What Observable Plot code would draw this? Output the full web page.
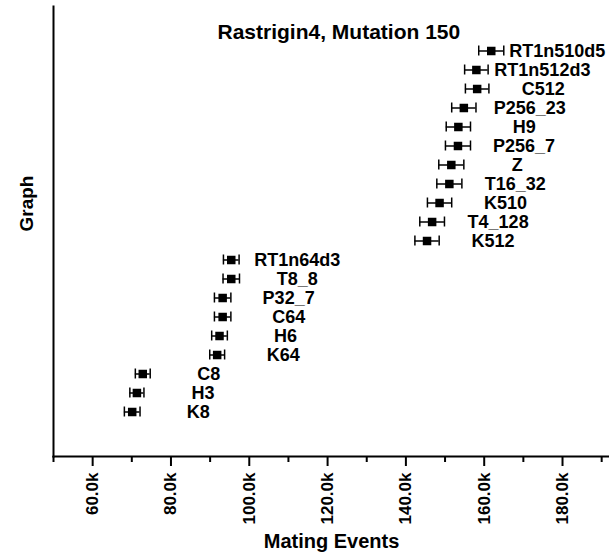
<!DOCTYPE html>
<html>
<head>
<meta charset="utf-8">
<script src="https://cdn.jsdelivr.net/npm/d3@7"></script>
<script src="https://cdn.jsdelivr.net/npm/@observablehq/plot@0.6"></script>
<style>
  html, body { margin: 0; padding: 0; background: #fff; }
  #chart svg { font-family: "Liberation Sans", Arial, sans-serif; }
</style>
</head>
<body>
<div id="chart"></div>
<script>
// Data (top to bottom)
const names = ["RT1n510d5", "RT1n512d3", "C512", "P256_23", "H9", "P256_7", "Z", "T16_32", "K510", "T4_128", "K512",
               "RT1n64d3", "T8_8", "P32_7", "C64", "H6", "K64", "C8", "H3", "K8"];
const means = [161800, 158000, 158200, 154800, 153400, 153300, 151600, 151100, 148600, 146700, 145400,
               95400, 95400, 93200, 93200, 92400, 91800, 72800, 71300, 70100];
const errors = [3200, 3000, 3000, 3100, 3100, 3200, 3200, 3200, 3100, 3150, 3100,
                2000, 2100, 2100, 2100, 2000, 1900, 1900, 1800, 2000];
const majorTicks = [60000, 80000, 100000, 120000, 140000, 160000, 180000];
const minorTicks = [50000, 70000, 90000, 110000, 130000, 150000, 170000, 190000];
const xDomain = [50000, 192000];
const titleText = "Rastrigin4, Mutation 150";
const xLabel = "Mating Events";
const yLabel = "Graph";

const data = names.map((n, i) => ({name: n, mean: means[i], lo: means[i] - errors[i], hi: means[i] + errors[i]}));
const fmt = v => d3.format(".1f")(v / 1000) + "k";

const chart = Plot.plot({
  width: 609,
  height: 552,
  marginLeft: 53,
  marginRight: 0,
  marginTop: 6,
  marginBottom: 96,
  style: {fontFamily: "Liberation Sans, Arial, sans-serif", color: "#000", background: "#fff"},
  x: {domain: xDomain, axis: null},
  y: {type: "band", domain: names, padding: 0, inset: 30, axis: null},
  marks: [
    Plot.axisX({ticks: minorTicks, tickSize: 6, tickFormat: () => "", strokeWidth: 2}),
    Plot.axisX({ticks: majorTicks, tickSize: 10, tickRotate: -90, tickPadding: 6, tickFormat: fmt,
                fontSize: 17, fontWeight: "bold", strokeWidth: 2, label: null}),
    Plot.frame({anchor: "bottom", strokeWidth: 2}),
    Plot.frame({anchor: "left", strokeWidth: 2}),
    Plot.ruleY(data, {y: "name", x1: "lo", x2: "hi", strokeWidth: 1.5}),
    Plot.tickX(data, {x: "lo", y: "name", strokeWidth: 1.5, insetTop: 4.5, insetBottom: 4.5}),
    Plot.tickX(data, {x: "hi", y: "name", strokeWidth: 1.5, insetTop: 4.5, insetBottom: 4.5}),
    Plot.dot(data, {x: "mean", y: "name", symbol: "square", r: 4.8, fill: "#000", stroke: null}),
    Plot.text(data, {x: "mean", y: "name", text: "name", dx: 66, textAnchor: "middle",
                     fontSize: 18, fontWeight: "bold", fill: "#000"}),
    Plot.text([titleText], {frameAnchor: "top-left", dx: 164, dy: 18, lineAnchor: "top", textAnchor: "start",
                            fontSize: 21, fontWeight: "bold", fill: "#000"}),
    Plot.text([xLabel], {frameAnchor: "bottom", dy: 91, lineAnchor: "bottom",
                         fontSize: 20, fontWeight: "bold", fill: "#000"}),
    Plot.text([yLabel], {frameAnchor: "left", dx: -27, rotate: -90,
                         fontSize: 19, fontWeight: "bold", fill: "#000"})
  ]
});
document.getElementById("chart").append(chart);
</script>
</body>
</html>
